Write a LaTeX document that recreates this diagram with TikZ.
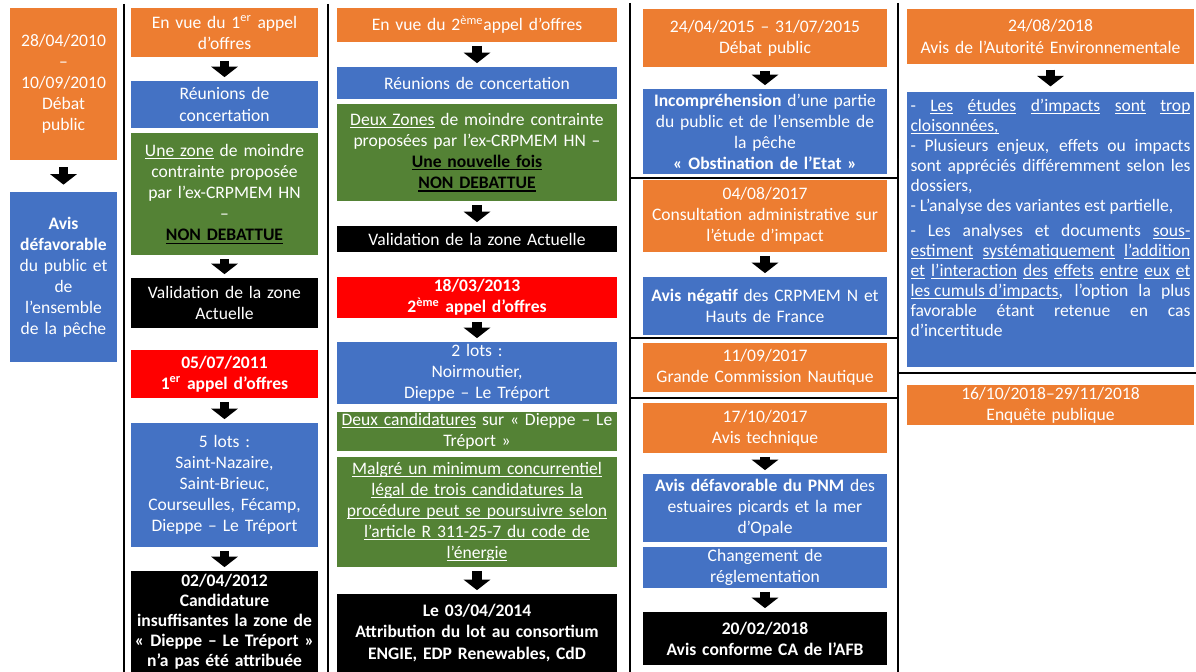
\documentclass[tikz,border=0pt]{standalone}
\usepackage{fontspec}
\setmainfont{Carlito}
\usetikzlibrary{arrows.meta}
\newcommand{\ulx}[1]{\leavevmode\setbox0=\hbox{#1}\rlap{\rule[-0.15em]{\wd0}{0.06em}}\box0\relax}
\definecolor{offorange}{HTML}{ED7D31}
\definecolor{offblue}{HTML}{4472C4}
\definecolor{offgreen}{HTML}{548235}
\definecolor{offred}{HTML}{FF0000}
\tikzset{
  box/.style={rectangle, inner xsep=1pt, inner ysep=0.5pt, align=center, text=white, font=\fontsize{10}{12}\selectfont},
  orangebox/.style={box, fill=offorange},
  bluebox/.style={box, fill=offblue},
  greenbox/.style={box, fill=offgreen},
  redbox/.style={box, fill=offred, font=\fontsize{10}{12}\selectfont\bfseries},
  blackbox/.style={box, fill=black, font=\fontsize{10}{12}\selectfont\bfseries},
  colA/.style={minimum width=2.14cm, text width=2.0cm},
  colB/.style={minimum width=3.74cm, text width=3.6cm},
  colC/.style={minimum width=5.6cm, text width=5.45cm},
  colD/.style={minimum width=4.88cm, text width=4.75cm},
  colE/.style={minimum width=5.74cm, text width=5.6cm},
  fat/.style={line width=5.5pt, -{Triangle[width=15pt,length=6pt]}, shorten <=2pt, shorten >=2pt},
  sep/.style={line width=0.7pt}
}
\begin{document}
\begin{tikzpicture}[x=0.02cm,y=-0.02cm]
\path[use as bounding box, fill=white] (0,0) rectangle (1196,672);
\draw[sep] (124,4) -- (124,672);
\draw[sep] (328,4) -- (328,672);
\draw[sep] (630,3) -- (630,672);
\draw[sep] (898,3) -- (898,672);
\draw[sep] (630,178) -- (898,178);
\draw[sep] (630,338) -- (898,338);
\draw[sep] (630,398) -- (898,398);
\draw[sep] (898,373) -- (1196,373);

\node[orangebox,colA,minimum height=3.04cm] (debat1) at (63.5,84) {28/04/2010\\–\\10/09/2010\\Débat\\public};
\node[bluebox,colA,minimum height=3.4cm] (avis1) at (63.5,277) {\textbf{Avis}\\\textbf{défavorable}\\du public et\\de\\l'ensemble\\de la pêche};
\draw[fat, shorten <=4pt, shorten >=4pt] (debat1.south) -- (avis1.north);

\node[orangebox,colB,minimum height=0.98cm] (vue1) at (224.5,32.5) {En vue du 1\textsuperscript{er} appel\\d'offres};
\node[bluebox,colB,minimum height=0.94cm] (reun1) at (224.5,104.5) {Réunions de\\concertation};
\node[greenbox,colB,minimum height=2.44cm] (zone1) at (224.5,194) {\ulx{Une zone} de moindre\\contrainte proposée\\par l'ex-CRPMEM HN\\–\\\textcolor{black}{\textbf{\ulx{NON DEBATTUE}}}};
\node[blackbox,colB,font=\fontsize{10}{12}\selectfont,minimum height=1.0cm] (valid1) at (224.5,303) {Validation de la zone\\Actuelle};
\node[redbox,colB,minimum height=0.96cm] (ao1) at (224.5,374) {05/07/2011\\1\textsuperscript{er} appel d'offres};
\node[bluebox,colB,minimum height=2.48cm] (lots1) at (224.5,485) {5 lots :\\Saint-Nazaire,\\Saint-Brieuc,\\Courseulles, Fécamp,\\Dieppe – Le Tréport};
\node[blackbox,colB,font=\fontsize{10}{11.4}\selectfont\bfseries,minimum height=2.02cm] (cand1) at (224.5,621.5) {02/04/2012\\Candidature\\insuffisantes la zone de\\« Dieppe – Le Tréport »\\n'a pas été attribuée};
\draw[fat] (vue1.south) -- (reun1.north);
\draw[fat] (zone1.south) -- (valid1.north);
\draw[fat] (ao1.south) -- (lots1.north);
\draw[fat] (lots1.south) -- (cand1.north);

\node[orangebox,colC,minimum height=0.68cm] (vue2) at (477,25) {En vue du 2\textsuperscript{ème}appel d'offres};
\node[bluebox,colC,minimum height=0.64cm] (reun2) at (477,83) {Réunions de concertation};
\node[greenbox,colC,minimum height=1.94cm] (zone2) at (477,152.5) {\ulx{Deux Zones} de moindre contrainte\\proposées par l'ex-CRPMEM HN –\\\textcolor{black}{\textbf{\ulx{Une nouvelle fois}}}\\\textcolor{black}{\textbf{\ulx{NON DEBATTUE}}}};
\node[blackbox,colC,font=\fontsize{10}{12}\selectfont,minimum height=0.52cm] (valid2) at (477,239) {Validation de la zone Actuelle};
\node[redbox,colC,minimum height=0.82cm] (ao2) at (477,297.5) {18/03/2013\\2\textsuperscript{ème} appel d'offres};
\node[bluebox,colC,minimum height=1.24cm] (lots2) at (477,373) {2 lots :\\Noirmoutier,\\Dieppe – Le Tréport};
\node[greenbox,colC,minimum height=0.78cm] (cand2) at (477,431.5) {\ulx{Deux candidatures} sur « Dieppe – Le\\Tréport »};
\node[greenbox,colC,minimum height=2.2cm] (proc2) at (477,512) {\ulx{Malgré un minimum concurrentiel}\\\ulx{légal de trois candidatures la}\\\ulx{procédure peut se poursuivre selon}\\\ulx{l'article R 311-25-7 du code de}\\\ulx{l'énergie}};
\node[blackbox,colC,minimum height=1.56cm] (attr2) at (477,633) {Le 03/04/2014\\Attribution du lot au consortium\\ENGIE, EDP Renewables, CdD};
\draw[fat] (vue2.south) -- (reun2.north);
\draw[fat] (zone2.south) -- (valid2.north);
\draw[fat] (ao2.south) -- (lots2.north);
\draw[fat] (proc2.south) -- (attr2.north);

\node[orangebox,colD,minimum height=1.16cm] (debat2) at (765,38) {24/04/2015 – 31/07/2015\\Débat public};
\node[bluebox,colD,minimum height=1.7cm] (incomp) at (765,131.5) {\textbf{Incompréhension} d'une partie\\du public et de l'ensemble de\\la pêche\\\textbf{« Obstination de l'Etat »}};
\node[orangebox,colD,minimum height=1.44cm] (consult) at (765,216) {04/08/2017\\Consultation administrative sur\\l'étude d'impact};
\node[bluebox,colD,minimum height=1.16cm] (negatif) at (765,306) {\textbf{Avis négatif} des CRPMEM N et\\Hauts de France};
\node[orangebox,colD,minimum height=0.98cm] (gcn) at (765,367.5) {11/09/2017\\Grande Commission Nautique};
\node[orangebox,colD,minimum height=1.0cm] (tech) at (765,428) {17/10/2017\\Avis technique};
\node[bluebox,colD,minimum height=1.36cm] (pnm) at (765,508) {\textbf{Avis défavorable du PNM} des\\estuaires picards et la mer\\d'Opale};
\node[bluebox,colD,minimum height=0.82cm] (regl) at (765,567.5) {Changement de\\réglementation};
\node[blackbox,colD,minimum height=1.06cm] (afb) at (765,638.5) {20/02/2018\\Avis conforme CA de l'AFB};
\draw[fat] (debat2.south) -- (incomp.north);
\draw[fat] (consult.south) -- (negatif.north);
\draw[fat] (tech.south) -- (pnm.north);
\draw[fat] (regl.south) -- (afb.north);

\node[orangebox,colE,minimum height=1.1cm] (ae) at (1050.5,36.5) {24/08/2018\\Avis de l'Autorité Environnementale};
\node[bluebox,colE,align=justify,font=\fontsize{10}{11.4}\selectfont,minimum height=5.5cm] (etudes) at (1050.5,229.5) {-~\ulx{Les} \ulx{études} \ulx{d'impacts} \ulx{sont} \ulx{trop}\linebreak
\ulx{cloisonnées,}\\
-~Plusieurs enjeux, effets ou impacts\linebreak
sont appréciés différemment selon les\linebreak
dossiers,\\
- L'analyse des variantes est partielle,\\[3pt]
-~Les analyses et documents \ulx{sous-}\linebreak
\ulx{estiment} \ulx{systématiquement} \ulx{l'addition}\linebreak
\ulx{et} \ulx{l'interaction} \ulx{des} \ulx{effets} \ulx{entre} \ulx{eux} \ulx{et}\linebreak
\ulx{les cumuls d'impacts}, l'option la plus\linebreak
favorable étant retenue en cas\linebreak
d'incertitude\\[2pt]\mbox{}};
\node[orangebox,colE,minimum height=0.8cm] (enquete) at (1050.5,405) {16/10/2018–29/11/2018\\Enquête publique};
\draw[fat, shorten <=3pt, shorten >=3pt] (ae.south) -- (etudes.north);
\end{tikzpicture}
\end{document}
